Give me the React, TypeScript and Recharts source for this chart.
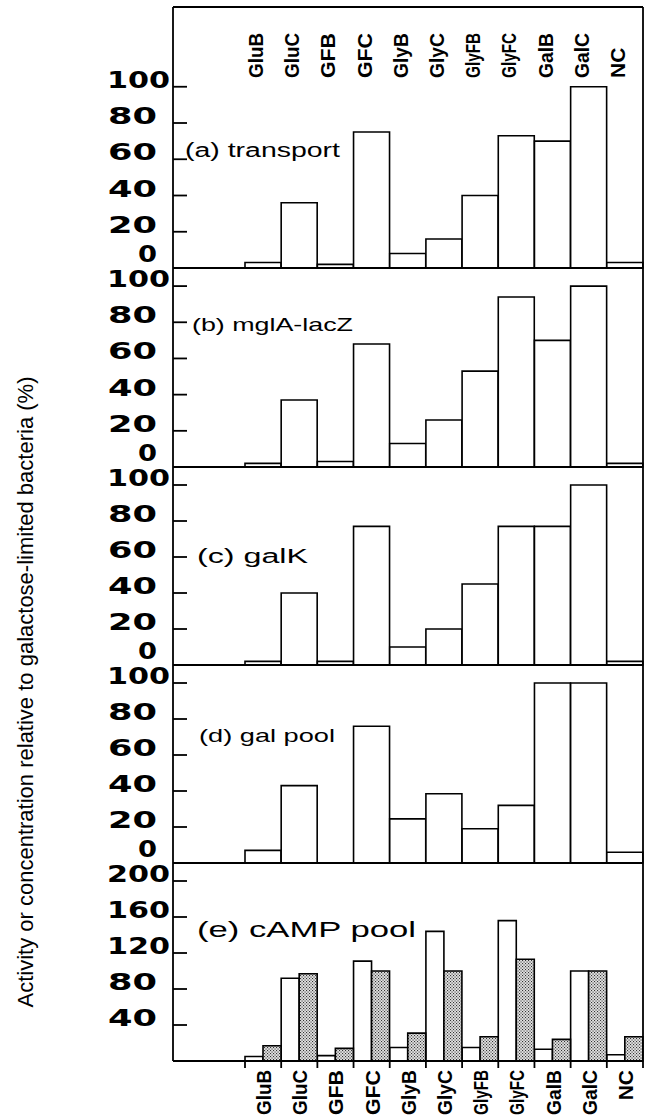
import React from 'react'
import { BarChart, Bar, XAxis, YAxis } from 'recharts'

// categories (growth conditions) along the x axis
const CATEGORIES = ['GluB', 'GluC', 'GFB', 'GFC', 'GlyB', 'GlyC', 'GlyFB', 'GlyFC', 'GalB', 'GalC', 'NC']

// values, % of galactose-limited bacteria
const TRANSPORT = [3, 36, 2, 75, 8, 16, 40, 73, 70, 100, 3]
const MGLA_LACZ = [2, 37, 3, 68, 13, 26, 53, 94, 70, 100, 2]
const GALK = [2, 40, 2, 77, 10, 20, 45, 77, 77, 100, 2]
const GAL_POOL = [7, 43, 0, 76, 24.5, 38.5, 19, 32, 100, 100, 6]
const CAMP_OPEN = [5, 92, 6, 111, 15, 144, 15, 156, 13, 100, 7]
const CAMP_SHADED = [17, 97, 14, 100, 31, 100, 27, 113, 24, 100, 27]

const TICKS_100 = [0, 20, 40, 60, 80, 100]
const TICKS_200 = [40, 80, 120, 160, 200]

const PANEL_TITLES = ['(a) transport', '(b) mglA-lacZ', '(c) galK', '(d) gal pool', '(e) cAMP pool']
const Y_TITLE = 'Activity or concentration relative to galactose-limited bacteria (%)'

// layout (page coordinates, every chart svg covers the whole page)
const W = 645
const H = 1118
const AXIS_X = 173
const RIGHT = 1 // plus 1px right axis -> frame at x = 643
const PAD_LEFT = 72
const BAND = (W - RIGHT - 1 - AXIS_X - PAD_LEFT) / CATEGORIES.length
const LINE = { stroke: '#000', strokeWidth: 1.8 }
const SANS = '"Liberation Sans", Arial, sans-serif'

const panels = [
  { top: 7, bottom: 268, domain: [0, 144], ticks: TICKS_100, series: [TRANSPORT], title: { x: 185, y: 150, w: 155, size: 20 } },
  { top: 268, bottom: 467, domain: [0, 110], ticks: TICKS_100, series: [MGLA_LACZ], title: { x: 192, y: 324, w: 161, size: 19 } },
  { top: 467, bottom: 665, domain: [0, 110], ticks: TICKS_100, series: [GALK], title: { x: 197, y: 556, w: 111, size: 20 } },
  { top: 665, bottom: 863, domain: [0, 110], ticks: TICKS_100, series: [GAL_POOL], title: { x: 199, y: 735, w: 136, size: 19 } },
  { top: 863, bottom: 1061, domain: [0, 220], ticks: TICKS_200, series: [CAMP_OPEN, CAMP_SHADED], title: { x: 197, y: 929, w: 219, size: 22 } },
]

function YTick(props: any) {
  const { x, y, payload } = props
  const v = payload.value
  const s = String(v)
  const right = s.length === 3 ? x - 3 : x - 16
  const len = s.length === 3 ? 63 : s.length === 2 ? 49 : 19
  return (
    <g>
      {v !== 0 && <line x1={x} y1={y} x2={x + 14} y2={y} {...LINE} />}
      <text
        x={right}
        y={v === 0 ? y - 14 : y - 7}
        textAnchor="end"
        dominantBaseline="central"
        fontFamily='"DejaVu Sans", sans-serif'
        fontWeight="bold"
        fontSize={23}
        textLength={len}
        lengthAdjust="spacingAndGlyphs"
        fill="#000"
      >
        {s}
      </text>
    </g>
  )
}

// rotated category name, squeezed to the length it has in the figure
function CategoryLabel({ x, y, name, anchor, len }: any) {
  return (
    <text
      transform={`translate(${x},${y}) rotate(-90)`}
      textAnchor={anchor}
      fontFamily={SANS}
      fontWeight="bold"
      fontSize={21}
      textLength={name.length > 2 ? len : undefined}
      lengthAdjust="spacingAndGlyphs"
      fill="#000"
    >
      {name}
    </text>
  )
}

function TopTick(props: any) {
  const { x, y, payload } = props
  return <CategoryLabel x={x} y={y + 71} name={payload.value} anchor="start" len={45} />
}

function BottomTick(props: any) {
  const { x, y, payload, index } = props
  return (
    <g>
      <line x1={x - BAND / 2} y1={y} x2={x - BAND / 2} y2={y + 7} {...LINE} />
      {index === CATEGORIES.length - 1 && <line x1={x + BAND / 2} y1={y} x2={x + BAND / 2} y2={y + 7} {...LINE} />}
      <CategoryLabel x={x + 8} y={y + 9} name={payload.value} anchor="end" len={45} />
    </g>
  )
}

export default function App() {
  return (
    <div style={{ position: 'absolute', left: 0, top: 0, width: W, height: H, background: '#fff', overflow: 'hidden' }}>
      <svg width={0} height={0} style={{ position: 'absolute' }}>
        <defs>
          <pattern id="stipple" width={3} height={3} patternUnits="userSpaceOnUse">
            <rect width={3} height={3} fill="#e2e2e2" />
            <rect x={0} y={0} width={1.1} height={1.1} fill="#333" />
            <rect x={1.5} y={1.5} width={1.1} height={1.1} fill="#333" />
          </pattern>
        </defs>
      </svg>

      {panels.map((p, pi) => {
        const last = pi === panels.length - 1
        const first = pi === 0
        const data = CATEGORIES.map((name, i) => ({ name, v0: p.series[0][i], v1: p.series[1] ? p.series[1][i] : undefined }))
        const xHeight = last ? H - p.bottom : 1
        const topHeight = first ? 1 : 0
        return (
          <div key={pi} style={{ position: 'absolute', left: 0, top: 0 }}>
            <BarChart
              width={W}
              height={H}
              data={data}
              margin={{ top: p.top - topHeight, right: RIGHT, bottom: H - p.bottom - xHeight, left: 0 }}
              barCategoryGap={0}
              barGap={0}
            >
              <XAxis
                dataKey="name"
                padding={{ left: PAD_LEFT, right: 0 }}
                height={xHeight}
                axisLine={LINE}
                tickLine={false}
                tickSize={0}
                tickMargin={0}
                interval={0}
                tick={last ? <BottomTick /> : false}
              />
              {first && (
                <XAxis
                  xAxisId="top"
                  orientation="top"
                  dataKey="name"
                  padding={{ left: PAD_LEFT, right: 0 }}
                  height={topHeight}
                  axisLine={LINE}
                  tickLine={false}
                  tickSize={0}
                  tickMargin={0}
                  interval={0}
                  tick={<TopTick />}
                />
              )}
              <YAxis
                yAxisId="l"
                width={AXIS_X}
                domain={p.domain}
                ticks={p.ticks}
                interval={0}
                axisLine={LINE}
                tickLine={false}
                tickSize={0}
                tickMargin={0}
                tick={<YTick />}
              />
              <YAxis yAxisId="r" orientation="right" width={1} domain={p.domain} axisLine={LINE} tickLine={false} tick={false} />
              <Bar yAxisId="l" dataKey="v0" fill="#fff" stroke="#000" strokeWidth={1.6} isAnimationActive={false} />
              {p.series[1] && (
                <Bar yAxisId="l" dataKey="v1" fill="url(#stipple)" stroke="#000" strokeWidth={1.6} isAnimationActive={false} />
              )}
            </BarChart>
          </div>
        )
      })}

      <svg width={W} height={H} style={{ position: 'absolute', left: 0, top: 0, pointerEvents: 'none' }}>
        {panels.map((p, pi) => (
          <text
            key={pi}
            x={p.title.x}
            y={p.title.y}
            dominantBaseline="central"
            fontFamily={SANS}
            fontSize={p.title.size}
            textLength={p.title.w}
            lengthAdjust="spacingAndGlyphs"
            fill="#000"
          >
            {PANEL_TITLES[pi]}
          </text>
        ))}
        <text
          transform="translate(33,692) rotate(-90)"
          textAnchor="middle"
          fontFamily={SANS}
          fontSize={22}
          fill="#000"
        >
          {Y_TITLE}
        </text>
      </svg>
    </div>
  )
}
